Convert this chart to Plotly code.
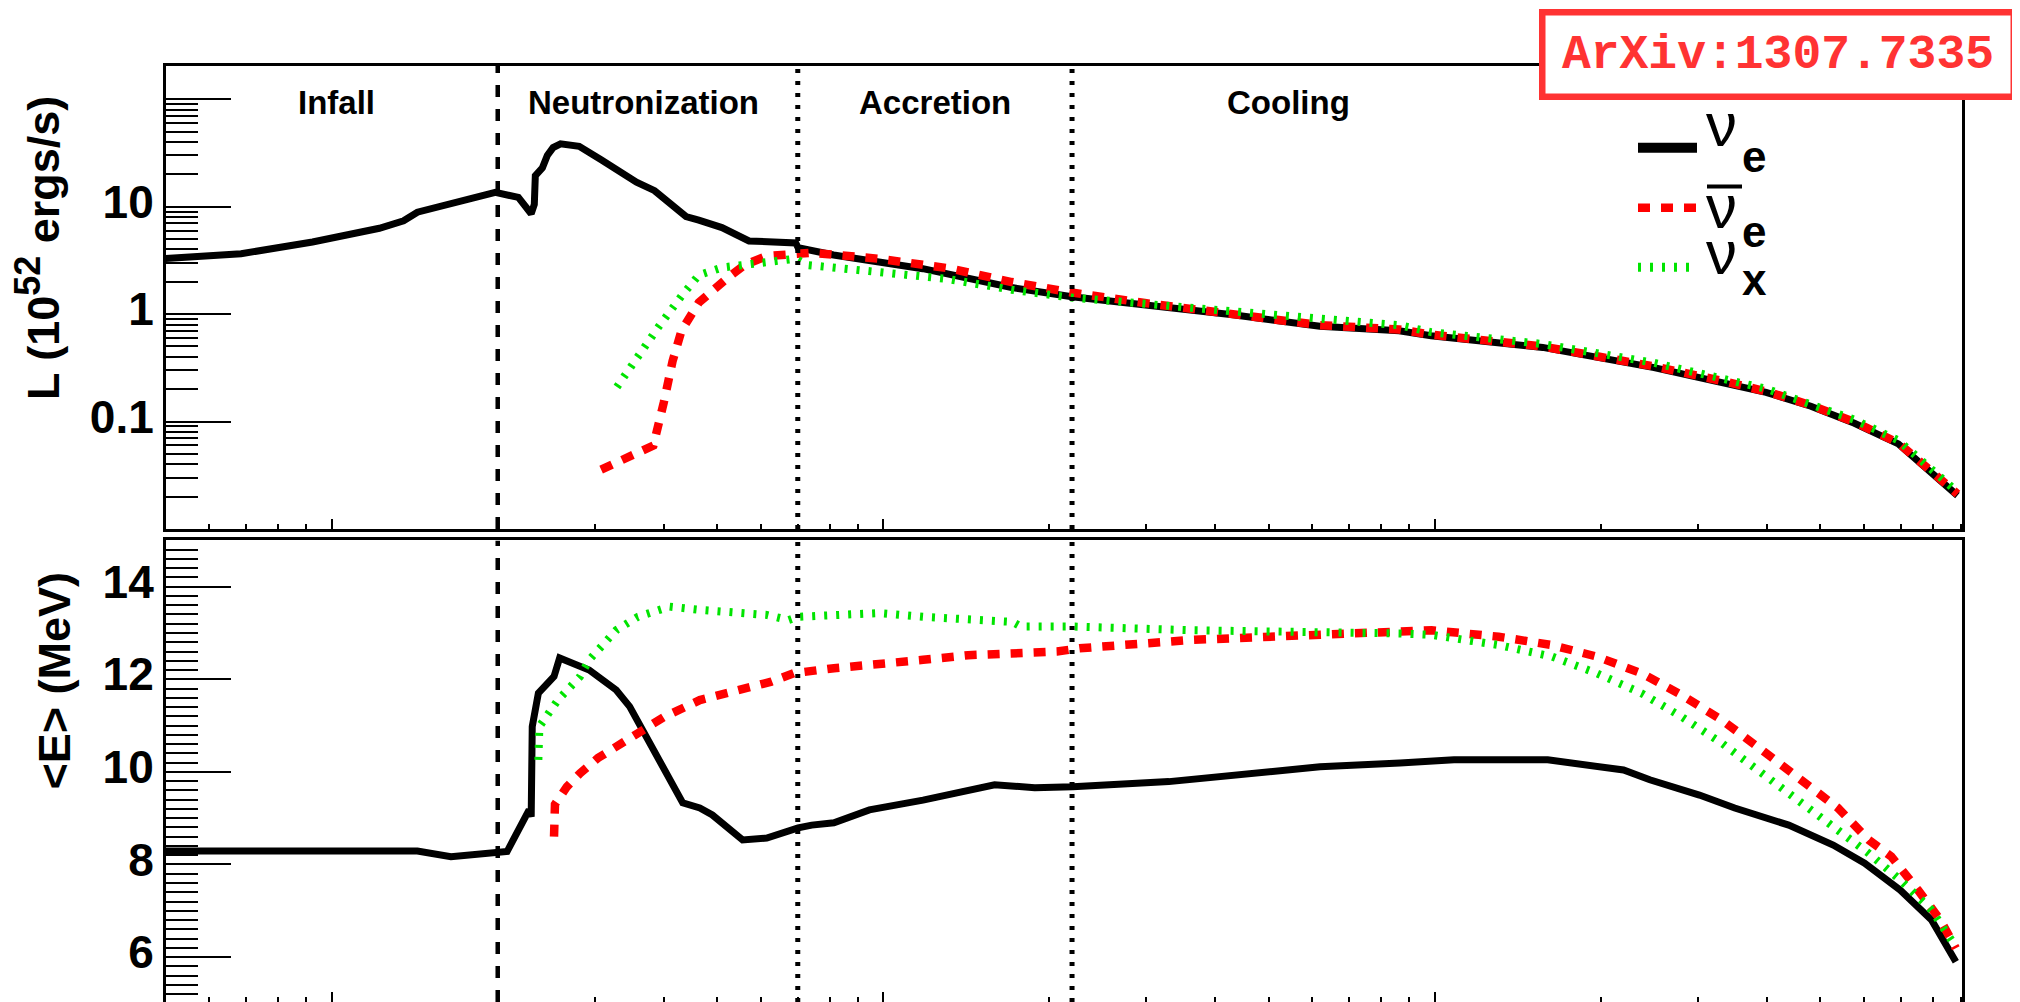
import math
import plotly.graph_objects as go

# The page body adds an 8 px margin; the figure is sized so that it fits the window.
OFF = 8
W, H = 2020 - OFF, 1002 - OFF


def px(x):
    return (x - OFF) / W


def py(y):
    return 1 - (y - OFF) / H


# ---------------- data (time in s) ----------------
# Luminosity, 1e52 ergs/s
t_L_nue = [0.0050, 0.00685, 0.00923, 0.0122, 0.0135, 0.0143, 0.0198, 0.0218, 0.0230, 0.0233,
           0.0234, 0.0241, 0.0246, 0.0252, 0.0260, 0.0281, 0.0308, 0.0339, 0.0357, 0.0385,
           0.0408, 0.0439, 0.0463, 0.0510, 0.0571, 0.0694, 0.0701, 0.0813, 0.118, 0.142,
           0.171, 0.220, 0.298, 0.434, 0.619, 0.862, 0.985, 1.57, 2.50, 3.32,
           3.99, 4.81, 5.77, 6.93, 7.78, 8.87]
L_nue = [3.3, 3.65, 4.7, 6.3, 7.4, 8.9, 13.6, 12.2, 8.6, 10.5,
         19.5, 23.0, 30.0, 35.5, 38.5, 36.5, 27.4, 20.3, 16.9, 14.1,
         10.9, 8.1, 7.5, 6.4, 4.8, 4.6, 4.15, 3.55, 2.65, 2.2,
         1.77, 1.45, 1.22, 0.98, 0.77, 0.70, 0.63, 0.49, 0.318, 0.233,
         0.187, 0.139, 0.0965, 0.062, 0.037, 0.0205]

t_L_anue = [0.0308, 0.0383, 0.0400, 0.0415, 0.0431, 0.0463, 0.0520, 0.0561, 0.0614, 0.0694,
            0.0741, 0.0980, 0.1318, 0.171, 0.218, 0.298, 0.434, 0.619, 0.862, 0.985,
            1.57, 2.50, 3.32, 3.99, 4.81, 5.77, 6.93, 7.78, 8.87]
L_anue = [0.0357, 0.0598, 0.150, 0.365, 0.708, 1.28, 2.14, 2.88, 3.47, 3.65,
          3.73, 3.28, 2.67, 1.99, 1.60, 1.27, 1.01, 0.79, 0.72, 0.645,
          0.50, 0.326, 0.239, 0.191, 0.142, 0.099, 0.0633, 0.038, 0.0212]

t_L_nux = [0.0329, 0.0357, 0.0392, 0.0431, 0.0463, 0.0511, 0.0614, 0.0694, 0.0727, 0.0980,
           0.1295, 0.171, 0.218, 0.434, 0.862, 0.985, 1.57, 2.50, 3.99, 5.77,
           6.93, 8.87]
L_nux = [0.21, 0.39, 0.77, 1.48, 2.31, 2.72, 2.99, 3.28, 2.87, 2.48,
         2.14, 1.69, 1.43, 1.06, 0.79, 0.68, 0.527, 0.352, 0.202, 0.104,
         0.0668, 0.0221]

# Mean energy, MeV
t_E_nue = [0.0050, 0.0143, 0.01645, 0.0198, 0.0208, 0.0228, 0.0230, 0.0231, 0.0237, 0.0253,
           0.0259, 0.0293, 0.0328, 0.0347, 0.0381, 0.0410, 0.0433, 0.0465, 0.0490, 0.0556,
           0.0615, 0.0701, 0.0742, 0.0814, 0.0944, 0.1181, 0.1592, 0.1883, 0.2207, 0.3296,
           0.4782, 0.6194, 0.865, 1.084, 1.603, 2.20, 2.455, 3.02, 3.50, 4.385,
           5.28, 6.02, 6.98, 7.96, 8.81]
E_nue = [8.29, 8.29, 8.17, 8.28, 8.28, 9.18, 9.03, 10.98, 11.70, 12.06,
         12.46, 12.20, 11.77, 11.41, 10.54, 9.90, 9.33, 9.22, 9.07, 8.53,
         8.57, 8.79, 8.85, 8.90, 9.18, 9.39, 9.72, 9.66, 9.68, 9.79,
         10.00, 10.11, 10.19, 10.26, 10.26, 10.04, 9.83, 9.50, 9.22, 8.85,
         8.42, 8.03, 7.45, 6.80, 5.90]

t_E_anue = [0.0253, 0.0254, 0.0267, 0.0282, 0.0304, 0.0360, 0.0401, 0.0465, 0.0561, 0.0627,
            0.0688, 0.0814, 0.1181, 0.1425, 0.2066, 0.2270, 0.3614, 0.5243, 0.987, 1.306,
            1.632, 1.968, 2.371, 2.803, 3.317, 3.922, 4.636, 5.386, 6.125, 6.73,
            7.52, 8.26, 8.81]
E_anue = [8.60, 9.30, 9.68, 9.97, 10.30, 10.84, 11.19, 11.55, 11.81, 11.95,
          12.13, 12.24, 12.42, 12.52, 12.60, 12.67, 12.85, 12.92, 13.06, 12.92,
          12.74, 12.49, 12.13, 11.66, 11.12, 10.47, 9.83, 9.22, 8.53, 8.17,
          7.45, 6.80, 6.19]

t_E_nux = [0.0237, 0.0238, 0.0257, 0.0282, 0.0293, 0.0328, 0.0359, 0.0410, 0.0465, 0.0615,
           0.0674, 0.0701, 0.0981, 0.1181, 0.1716, 0.1778, 0.2207, 0.3614, 0.865, 0.987,
           1.306, 1.632, 1.968, 2.371, 2.803, 3.317, 3.922, 4.636, 5.386, 6.125,
           6.98, 7.96, 8.81]
E_nux = [10.26, 10.98, 11.55, 12.06, 12.42, 13.06, 13.35, 13.57, 13.50, 13.39,
         13.28, 13.35, 13.43, 13.35, 13.24, 13.14, 13.14, 13.06, 12.99, 12.96,
         12.74, 12.49, 12.13, 11.70, 11.19, 10.62, 9.97, 9.32, 8.75, 8.24,
         7.67, 7.02, 6.22]

PHASE_NAMES = ["Infall", "Neutronization", "Accretion", "Cooling"]
PHASE_BOUNDARIES = [0.02, 0.07, 0.22]

L_TICKS = [0.01, 0.1, 1, 10, 100]
L_TICK_TEXT = ["", "0.1", "1", "10", ""]
E_TICKS = list(range(5, 16))
E_TICK_TEXT = [str(v) if v % 2 == 0 else "" for v in E_TICKS]
T_TICKS = [0.01, 0.1, 1]

# ---------------- styles ----------------
BLACK = "#000000"
RED = "#ff0000"
GREEN = "#00e400"
FONT = "Liberation Sans, Arial, Helvetica, sans-serif"

styles = [
    dict(color=BLACK, width=7, dash="solid"),
    dict(color=RED, width=8.5, dash="12px,11px"),
    dict(color=GREEN, width=8, dash="3px,9px"),
]

fig = go.Figure()

top = [(t_L_nue, L_nue), (t_L_anue, L_anue), (t_L_nux, L_nux)]
bot = [(t_E_nue, E_nue), (t_E_anue, E_anue), (t_E_nux, E_nux)]
for (tx, ly), st in zip(top, styles):
    fig.add_trace(go.Scatter(x=tx, y=ly, mode="lines", line=st, xaxis="x", yaxis="y",
                             showlegend=False, hoverinfo="skip"))
for (tx, ey), st in zip(bot, styles):
    fig.add_trace(go.Scatter(x=tx, y=ey, mode="lines", line=st, xaxis="x2", yaxis="y2",
                             showlegend=False, hoverinfo="skip"))

YR_TOP = [-2.0, 2.31]
YR_BOT = [5.03, 15.0]
XR = [math.log10(0.005), math.log10(9.04)]

for i, tb in enumerate(PHASE_BOUNDARIES):
    st = dict(color=BLACK, width=4.5, dash="12px,12px") if i == 0 else dict(color=BLACK, width=5, dash="4px,8px")
    fig.add_trace(go.Scatter(x=[tb, tb], y=[10 ** YR_TOP[0], 10 ** YR_TOP[1]], mode="lines", line=st,
                             xaxis="x", yaxis="y", showlegend=False, hoverinfo="skip", cliponaxis=False))
    fig.add_trace(go.Scatter(x=[tb, tb], y=YR_BOT, mode="lines", line=st,
                             xaxis="x2", yaxis="y2", showlegend=False, hoverinfo="skip", cliponaxis=False))

minor_t = [k * 10 ** e for e in (-3, -2, -1, 0) for k in range(2, 10)]
minor_L = [k * 10 ** e for e in (-2, -1, 0, 1, 2) for k in range(2, 10)]
minor_E = [round(5 + 0.2 * i, 2) for i in range(51)]

XDOM = [px(165.7), px(1962)]
frame = dict(showline=True, linewidth=2.5, linecolor=BLACK, mirror=True, showgrid=False,
             zeroline=False, automargin=False)

xcommon = dict(type="log", range=XR, domain=XDOM, ticks="inside", ticklen=10, tickwidth=2,
               tickcolor=BLACK, tickmode="array", tickvals=T_TICKS, showticklabels=False,
               minor=dict(tickmode="array", tickvals=minor_t, ticks="inside", ticklen=5,
                          tickwidth=2, tickcolor=BLACK, showgrid=False),
               **frame)

tickfont = dict(family=FONT, size=46, color=BLACK, weight="bold")

fig.update_layout(
    width=W, height=H, autosize=False,
    margin=dict(l=0, r=0, t=0, b=0),
    paper_bgcolor="white", plot_bgcolor="white",
    font=dict(family=FONT, color=BLACK),
    xaxis=dict(anchor="y", **xcommon),
    xaxis2=dict(anchor="y2", **xcommon),
    yaxis=dict(type="log", range=YR_TOP, domain=[py(529), py(66)], anchor="x",
               ticks="inside", ticklen=66, tickwidth=2, tickcolor=BLACK,
               tickmode="array", tickvals=L_TICKS, ticktext=L_TICK_TEXT,
               tickfont=tickfont, ticklabelshift=-5,
               minor=dict(tickmode="array", tickvals=minor_L, ticks="inside", ticklen=33,
                          tickwidth=2, tickcolor=BLACK, showgrid=False),
               **frame),
    yaxis2=dict(range=YR_BOT, domain=[0, py(540.4)], anchor="x2",
                ticks="inside", ticklen=66, tickwidth=2, tickcolor=BLACK,
                tickmode="array", tickvals=E_TICKS, ticktext=E_TICK_TEXT,
                tickfont=tickfont, ticklabelshift=-5,
                minor=dict(tickmode="array", tickvals=minor_E, ticks="inside", ticklen=33,
                           tickwidth=2, tickcolor=BLACK, showgrid=False),
                **frame),
)

ann = []
# axis titles
ann.append(dict(text="L (10<sup><span style='font-size:36px'>52</span></sup> ergs/s)", textangle=-90,
                x=px(38), y=py(248),
                xref="paper", yref="paper", xanchor="center", yanchor="middle", showarrow=False,
                font=dict(family=FONT, size=45, color=BLACK, weight="bold")))
ann.append(dict(text="&lt;E&gt; (MeV)", textangle=-90, x=px(54), y=py(680.5),
                xref="paper", yref="paper", xanchor="center", yanchor="middle", showarrow=False,
                font=dict(family=FONT, size=45, color=BLACK, weight="bold")))

# phase labels
phase_label_t = [0.0102, 0.0367, 0.124, 0.543]
for name, tc in zip(PHASE_NAMES, phase_label_t):
    ann.append(dict(text=name, x=math.log10(tc), y=py(102.2), xref="x", yref="paper",
                    xanchor="center", yanchor="middle", showarrow=False,
                    font=dict(family=FONT, size=33, color=BLACK, weight="bold")))

# legend text
NU_FS, SUB_FS = 62, 44
nu_font = dict(family=FONT, size=NU_FS, color=BLACK)
sub_font = dict(family=FONT, size=SUB_FS, color=BLACK, weight="bold")
for txt, base_nu, base_sub in [("e", 146, 172), ("e", 228, 247), ("x", 274, 295)]:
    ann.append(dict(text="ν", x=px(1704), y=py(base_nu - 0.3465 * NU_FS), xref="paper", yref="paper",
                    xanchor="left", yanchor="middle", showarrow=False, font=nu_font))
    ann.append(dict(text=txt, x=px(1740), y=py(base_sub - 0.3465 * SUB_FS), xref="paper", yref="paper",
                    xanchor="left", yanchor="middle", showarrow=False, font=sub_font))

# arXiv tag
ann.append(dict(text="<b>ArXiv:1307.7335</b>", x=px(1778), y=py(54.5), xref="paper", yref="paper",
                xanchor="center", yanchor="middle", showarrow=False,
                font=dict(family="Courier New, Liberation Mono, monospace", size=48, color="#ff3333"),
                bgcolor="white", bordercolor="#ff3333", borderwidth=6.5, borderpad=0,
                width=465, height=78, align="center", valign="middle"))

shapes = [
    dict(type="line", xref="paper", yref="paper", x0=px(1638), x1=px(1697), y0=py(147.7), y1=py(147.7),
         line=dict(color=BLACK, width=10)),
    dict(type="line", xref="paper", yref="paper", x0=px(1638), x1=px(1697), y0=py(207.7), y1=py(207.7),
         line=dict(color=RED, width=8.5, dash="12px,11px")),
    dict(type="line", xref="paper", yref="paper", x0=px(1638), x1=px(1690), y0=py(267.3), y1=py(267.3),
         line=dict(color=GREEN, width=9, dash="3px,9px")),
    dict(type="line", xref="paper", yref="paper", x0=px(1707), x1=px(1742), y0=py(186.5), y1=py(186.5),
         line=dict(color=BLACK, width=4)),
]

fig.update_layout(annotations=ann, shapes=shapes)
fig.write_html("out.html")
